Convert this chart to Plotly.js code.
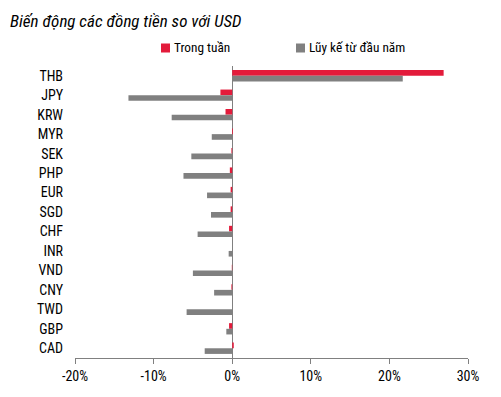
<!DOCTYPE html>
<html><head><meta charset="utf-8">
<script src="https://cdn.plot.ly/plotly-3.0.1.min.js"></script>
<style>html,body{margin:0;padding:0;background:#fff}#c{width:501px;height:397px}</style>
</head><body><div id="c"></div>
<script>
var currencies = ["THB","JPY","KRW","MYR","SEK","PHP","EUR","SGD","CHF","INR","VND","CNY","TWD","GBP","CAD"];
var weekChange = [26.9,-1.5,-0.85,0.1,-0.1,-0.3,-0.2,-0.2,-0.4,0.0,-0.05,-0.1,0.0,-0.4,0.2];
var ytdChange = [21.7,-13.2,-7.7,-2.6,-5.2,-6.2,-3.2,-2.7,-4.4,-0.45,-5.0,-2.3,-5.8,-0.75,-3.5];
var seriesNames = ["Trong tuần","Lũy kế từ đầu năm"];
var seriesColors = ["#E31B3B","#808080"];
var xTicks = [-20,-10,0,10,20,30];
var chartTitle = "Biến động các đồng tiền so với USD";

// pick a narrow font if one is installed
var cv = document.createElement('canvas').getContext('2d');
function hasFont(f){
  var s='abcdefghijklmnop WMiTHB 0123';
  cv.font="40px '"+f+"', monospace"; var a=cv.measureText(s).width;
  cv.font="40px monospace"; var b=cv.measureText(s).width;
  cv.font="40px '"+f+"', serif"; var c=cv.measureText(s).width;
  cv.font="40px serif"; var d=cv.measureText(s).width;
  return a!==b || c!==d;
}
var cands=['Liberation Sans Narrow','Arial Narrow','Roboto Condensed','Noto Sans Condensed','Open Sans Condensed','DejaVu Sans Condensed','Liberation Sans'];
var fam='Liberation Sans';
for(var i=0;i<cands.length;i++){ if(hasFont(cands[i])){fam=cands[i];break;} }
var font="'"+fam+"', sans-serif";
function fitSize(text, targetW, maxSize, italic){
  cv.font=(italic?'italic ':'')+"100px '"+fam+"', sans-serif";
  var w=cv.measureText(text).width;
  return Math.min(maxSize, Math.round(100*targetW/w*10)/10);
}
var titleSize = fitSize(chartTitle, 237, 17, true);
var tickSize = Math.min(fitSize("THB",24,14), fitSize("-20%",27,14));
var legSize = fitSize(seriesNames[1], 96, 13.5);

var data = [
  {type:'bar', orientation:'h', name:seriesNames[0], y:currencies, x:weekChange,
   marker:{color:seriesColors[0]}, hoverinfo:'x+y'},
  {type:'bar', orientation:'h', name:seriesNames[1], y:currencies, x:ytdChange,
   marker:{color:seriesColors[1]}, hoverinfo:'x+y'}
];
// plot area in px: x 75..468, y 66..358
function px(x){return (x-75)/393;}
function py(y){return (358-y)/292;}
var legX=[161,296];
var shapes=[], annotations=[];
for(var k=0;k<2;k++){
  shapes.push({type:'rect', xref:'paper', yref:'paper', x0:px(legX[k]), x1:px(legX[k]+9),
    y0:py(52.5), y1:py(43.5), fillcolor:seriesColors[k], line:{width:0}});
  annotations.push({xref:'paper', yref:'paper', x:px(legX[k]+11), y:py(48), xanchor:'left', yanchor:'middle',
    text:seriesNames[k], showarrow:false, font:{family:font, size:legSize, color:'#000'}});
}
var layout = {
  width:501, height:397,
  margin:{l:75, r:33, t:66, b:39},
  paper_bgcolor:'#fff', plot_bgcolor:'#fff',
  font:{family:font, size:12, color:'#000'},
  title:{text:'<i>'+chartTitle+'</i>', x:0.02, xanchor:'left', y:1-21/397, yanchor:'middle',
         font:{family:font, size:titleSize, color:'#000'}},
  barmode:'group', bargap:0.42, bargroupgap:0,
  showlegend:false,
  shapes:shapes, annotations:annotations,
  xaxis:{range:[-20,30], tickvals:xTicks, ticktext:xTicks.map(function(v){return v+'%';}),
         showgrid:false, zeroline:true, zerolinecolor:'#808080', zerolinewidth:1,
         showline:true, linecolor:'#808080', linewidth:1, ticks:'outside', ticklen:5,
         tickcolor:'#808080', tickfont:{family:font, size:tickSize}, fixedrange:true},
  yaxis:{autorange:'reversed', type:'category', showgrid:false, showline:false, ticks:'',
         ticklabelstandoff:11, tickfont:{family:font, size:tickSize}, fixedrange:true}
};
Plotly.newPlot('c', data, layout, {displayModeBar:false, staticPlot:true});
</script></body></html>
